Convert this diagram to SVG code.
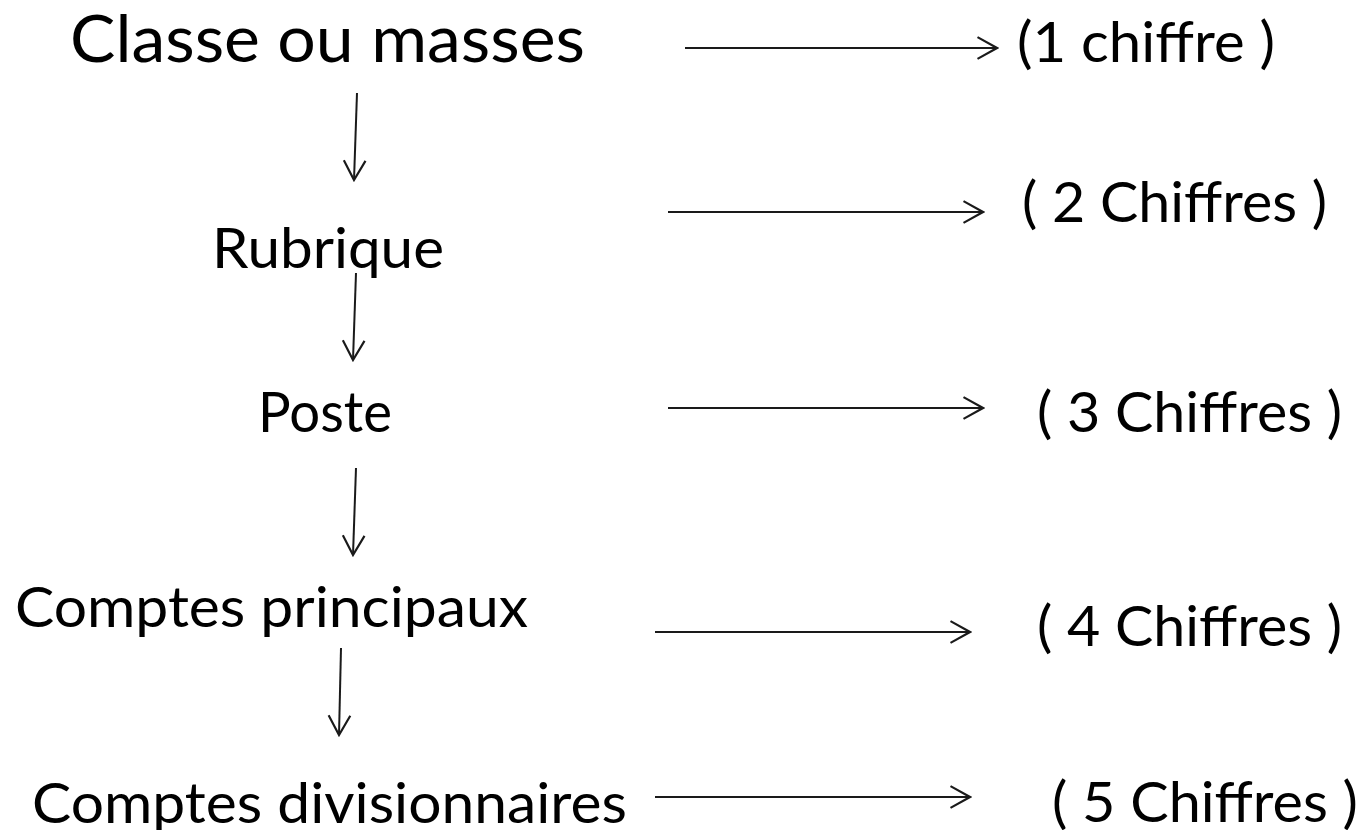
<svg xmlns="http://www.w3.org/2000/svg" width="1365" height="830" viewBox="0 0 1365 830">
<defs>
<style>
text{font-family:Lato,"Open Sans","Liberation Sans",sans-serif;fill:#000;}
.big{font-size:66px;}
.lbl{font-size:57px;}
.arr{stroke:#1a1a1a;stroke-width:2;fill:none;marker-end:url(#ah);}
</style>
<marker id="ah" markerUnits="userSpaceOnUse" markerWidth="24" markerHeight="26" viewBox="-20 -12 22 24" refX="0" refY="0" orient="auto">
<path d="M-18,-10 L0,0 L-18,10" fill="none" stroke="#1a1a1a" stroke-width="2"/>
</marker>
</defs>
<rect width="1365" height="830" fill="#fff"/>
<g id="n-classe"><text class="big" x="70" y="62" textLength="515" lengthAdjust="spacingAndGlyphs">Classe ou masses</text></g>
<g id="n-1chiffre"><text class="lbl" x="1017" y="62" textLength="258" lengthAdjust="spacingAndGlyphs">(1 chiffre )</text></g>
<g id="n-rubrique"><text class="lbl" x="212" y="268" textLength="232" lengthAdjust="spacingAndGlyphs">Rubrique</text></g>
<g id="n-2chiffres"><text class="lbl" x="1022" y="222" textLength="305" lengthAdjust="spacingAndGlyphs">( 2 Chiffres )</text></g>
<g id="n-poste"><text class="lbl" x="258" y="432" textLength="134" lengthAdjust="spacingAndGlyphs">Poste</text></g>
<g id="n-3chiffres"><text class="lbl" x="1037" y="432" textLength="305" lengthAdjust="spacingAndGlyphs">( 3 Chiffres )</text></g>
<g id="n-principaux"><text class="lbl" x="15" y="627" textLength="513" lengthAdjust="spacingAndGlyphs">Comptes principaux</text></g>
<g id="n-4chiffres"><text class="lbl" x="1037" y="646" textLength="305" lengthAdjust="spacingAndGlyphs">( 4 Chiffres )</text></g>
<g id="n-divisionnaires"><text class="lbl" x="32" y="823" textLength="595" lengthAdjust="spacingAndGlyphs">Comptes divisionnaires</text></g>
<g id="n-5chiffres"><text class="lbl" x="1052" y="822" textLength="306" lengthAdjust="spacingAndGlyphs">( 5 Chiffres )</text></g>
<g id="connectors">
<line class="arr" x1="685" y1="48" x2="997" y2="48"/>
<line class="arr" x1="668" y1="212" x2="983" y2="212"/>
<line class="arr" x1="668" y1="408" x2="983" y2="408"/>
<line class="arr" x1="655" y1="632" x2="970" y2="632"/>
<line class="arr" x1="655" y1="797" x2="970" y2="797"/>
<line class="arr" x1="357" y1="93" x2="354" y2="180"/>
<line class="arr" x1="356" y1="273" x2="353" y2="360"/>
<line class="arr" x1="356" y1="468" x2="353" y2="555"/>
<line class="arr" x1="341" y1="648" x2="339" y2="735"/>
</g>
</svg>
